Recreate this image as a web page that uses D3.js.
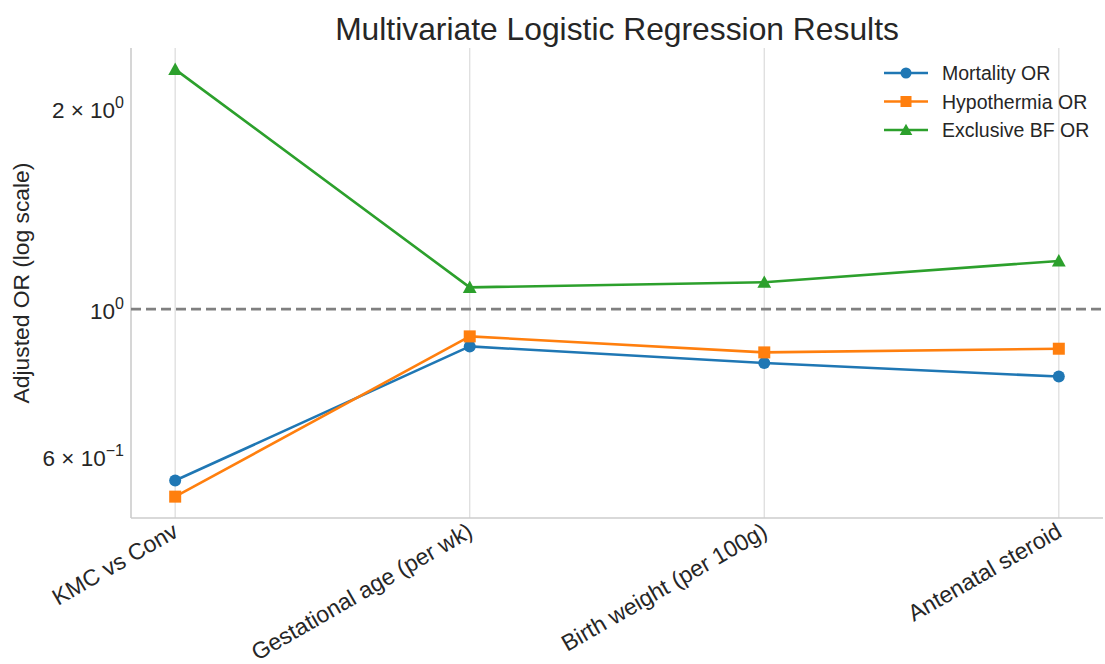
<!DOCTYPE html>
<html>
<head>
<meta charset="utf-8">
<script src="https://cdn.jsdelivr.net/npm/d3@7"></script>
<style>
  html, body { margin: 0; padding: 0; background: #ffffff; }
  svg { display: block; font-family: "Liberation Sans", Arial, sans-serif; }
</style>
</head>
<body>
<svg id="chart" width="1105" height="664"></svg>
<script>
// Predictors on the x axis
const categories = ["KMC vs Conv", "Gestational age (per wk)", "Birth weight (per 100g)", "Antenatal steroid"];

// Adjusted odds ratios per outcome
const mortalityOR   = [0.553, 0.879, 0.830, 0.792];
const hypothermiaOR = [0.523, 0.910, 0.861, 0.872];
const exclusiveBFOR = [2.29, 1.078, 1.097, 1.181];

// Y tick values with their mantissa / exponent labels
const yTicks = [
  { value: 0.6, mant: "6", exp: "\u22121" },
  { value: 1,   mant: null, exp: "0" },
  { value: 2,   mant: "2", exp: "0" }
];

const series = [
  { name: "Mortality OR",    values: mortalityOR,   color: "#1f77b4", marker: "circle" },
  { name: "Hypothermia OR",  values: hypothermiaOR, color: "#ff7f0e", marker: "square" },
  { name: "Exclusive BF OR", values: exclusiveBFOR, color: "#2ca02c", marker: "triangle" }
];

const svg = d3.select("#chart");
const plot = { left: 131, right: 1103, top: 48, bottom: 518 };
const textColor = "#262626";

// x: categorical positions with 5% padding on each side
const x = d3.scaleLinear()
  .domain([-0.15, categories.length - 1 + 0.15])
  .range([plot.left, plot.right]);

// y: log scale, padded 5% in log space around the data
const all = series.flatMap(s => s.values);
const lmin = Math.log10(d3.min(all)), lmax = Math.log10(d3.max(all));
const pad = (lmax - lmin) * 0.05;
const y = d3.scaleLog()
  .domain([Math.pow(10, lmin - pad), Math.pow(10, lmax + pad)])
  .range([plot.bottom, plot.top]);

// Vertical grid lines at each category
svg.append("g").selectAll("line")
  .data(categories)
  .join("line")
  .attr("x1", (d, i) => x(i)).attr("x2", (d, i) => x(i))
  .attr("y1", plot.top).attr("y2", plot.bottom)
  .attr("stroke", "#dedede").attr("stroke-width", 1.3);

// Spines (left and bottom)
svg.append("line")
  .attr("x1", plot.left).attr("x2", plot.left)
  .attr("y1", plot.top).attr("y2", plot.bottom)
  .attr("stroke", "#cccccc").attr("stroke-width", 1.6);
svg.append("line")
  .attr("x1", plot.left).attr("x2", plot.right)
  .attr("y1", plot.bottom).attr("y2", plot.bottom)
  .attr("stroke", "#cccccc").attr("stroke-width", 1.6);

// Reference line at OR = 1
svg.append("line")
  .attr("x1", plot.left).attr("x2", plot.right)
  .attr("y1", y(1)).attr("y2", y(1))
  .attr("stroke", "#808080").attr("stroke-width", 2.6)
  .attr("stroke-dasharray", "10,5");

// Y tick labels (mathtext-like: m × 10^e)
const yLabels = svg.append("g")
  .selectAll("text")
  .data(yTicks)
  .join("text")
  .attr("x", plot.left - 7)
  .attr("y", d => y(d.value) + 9.5)
  .attr("text-anchor", "end")
  .attr("fill", textColor)
  .attr("font-size", 22.5);
yLabels.each(function(d) {
  const t = d3.select(this);
  t.append("tspan").text(d.mant ? d.mant + " \u00d7 10" : "10");
  t.append("tspan").attr("dy", -10).attr("font-size", 16).text(d.exp);
});

// X tick labels, rotated 30°, right end aligned to the tick
svg.append("g")
  .selectAll("text")
  .data(categories)
  .join("text")
  .attr("transform", (d, i) => `translate(${x(i) - 4},${plot.bottom + 3}) rotate(-30)`)
  .attr("text-anchor", "end")
  .attr("dy", "0.74em")
  .attr("fill", textColor)
  .attr("font-size", 23)
  .text(d => d);

// Axis title
svg.append("text")
  .attr("transform", `translate(29,${(plot.top + plot.bottom) / 2}) rotate(-90)`)
  .attr("text-anchor", "middle")
  .attr("fill", textColor)
  .attr("font-size", 22.8)
  .text("Adjusted OR (log scale)");

// Chart title
svg.append("text")
  .attr("x", (plot.left + plot.right) / 2)
  .attr("y", 40)
  .attr("text-anchor", "middle")
  .attr("fill", textColor)
  .attr("font-size", 31.8)
  .text("Multivariate Logistic Regression Results");

// Marker drawing helper
function drawMarker(sel, type, color, cx, cy, size) {
  if (type === "circle") {
    sel.append("circle").attr("cx", cx).attr("cy", cy).attr("r", size).attr("fill", color);
  } else if (type === "square") {
    sel.append("rect").attr("x", cx - size).attr("y", cy - size)
      .attr("width", size * 2).attr("height", size * 2).attr("fill", color);
  } else {
    const h = size * 1.15;
    sel.append("path")
      .attr("d", `M${cx},${cy - h} L${cx + h},${cy + h * 0.8} L${cx - h},${cy + h * 0.8} Z`)
      .attr("fill", color);
  }
}

const line = d3.line().x((d, i) => x(i)).y(d => y(d));

series.forEach(s => {
  const g = svg.append("g");
  g.append("path")
    .attr("d", line(s.values))
    .attr("fill", "none")
    .attr("stroke", s.color)
    .attr("stroke-width", 2.6)
    .attr("stroke-linejoin", "round");
  s.values.forEach((v, i) => drawMarker(g, s.marker, s.color, x(i), y(v), 6));
});

// Legend (upper right, no frame)
const legend = svg.append("g");
series.forEach((s, i) => {
  const ly = 73 + i * 28.5;
  legend.append("line")
    .attr("x1", 884).attr("x2", 928)
    .attr("y1", ly).attr("y2", ly)
    .attr("stroke", s.color).attr("stroke-width", 2.6);
  drawMarker(legend, s.marker, s.color, 906, ly, 5.5);
  legend.append("text")
    .attr("x", 942).attr("y", ly + 7)
    .attr("fill", textColor)
    .attr("font-size", 19.5)
    .text(s.name);
});
</script>
</body>
</html>
